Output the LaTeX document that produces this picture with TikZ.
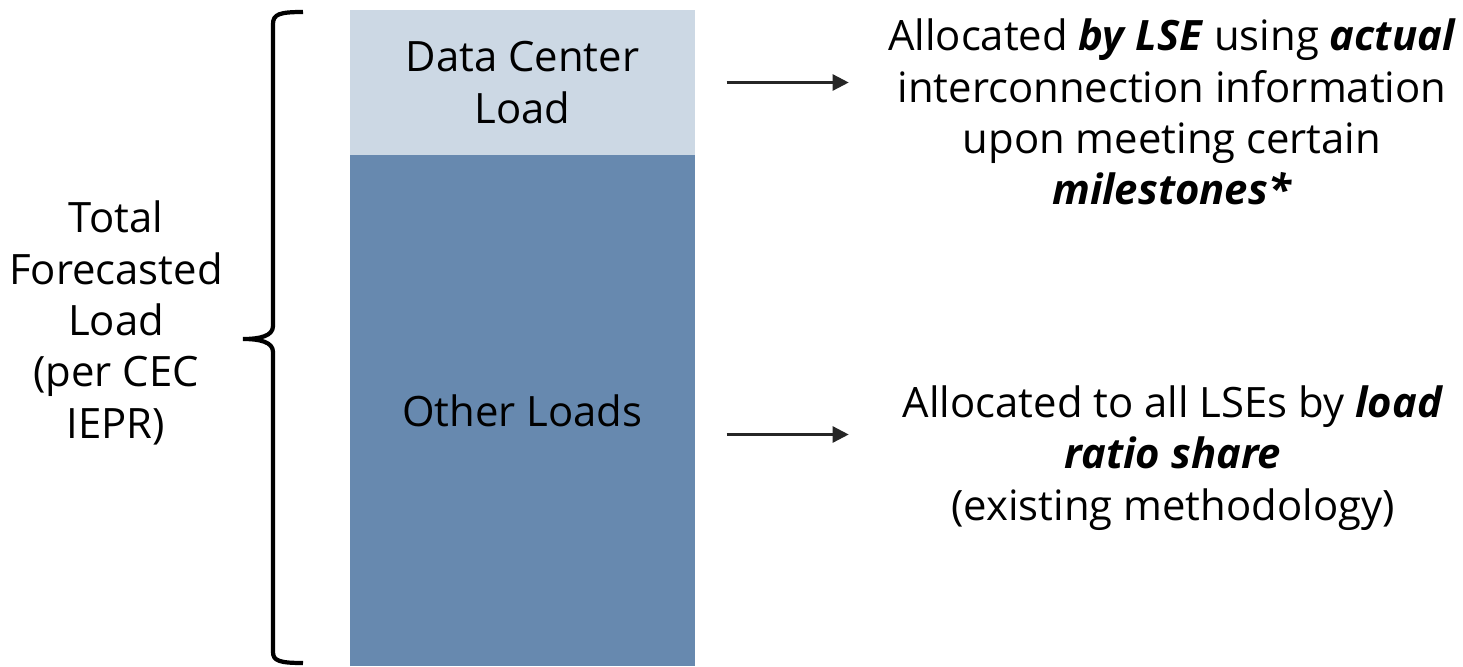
\documentclass[tikz,border=0pt]{standalone}
\usepackage{fontspec}
\setmainfont{Open Sans}
\usetikzlibrary{positioning}
\usetikzlibrary{arrows.meta}
\definecolor{dcblue}{RGB}{204,216,228}
\definecolor{loadblue}{RGB}{103,137,175}

\begin{document}
\begin{tikzpicture}
\useasboundingbox (0,0) rectangle (14.63,6.66);
\tikzset{txt/.style={font=\fontsize{11.9}{14.6}\selectfont,align=center,inner sep=0pt},
  bar/.style={rectangle,draw=none,minimum width=3.45cm,inner sep=0pt},
  arr/.style={-{Triangle[length=0.16cm,width=0.16cm]},line width=0.7pt,black!85}}

% stacked bar
\node[bar,fill=dcblue,minimum height=1.45cm,txt] (dc) at (5.225,5.835) {Data Center\\Load};
\node[bar,fill=loadblue,minimum height=5.11cm,txt] (other) at (5.225,2.555) {Other Loads};

% brace round the whole bar
\draw[line width=1.2pt] (3.03,6.54) .. controls (2.80,6.54) and (2.73,6.52) .. (2.73,6.42)
  -- (2.73,3.40) .. controls (2.73,3.30) and (2.60,3.27) .. (2.43,3.27)
  .. controls (2.60,3.27) and (2.73,3.24) .. (2.73,3.14)
  -- (2.73,0.14) .. controls (2.73,0.05) and (2.80,0.03) .. (3.03,0.03);
\node[txt] (total) at (1.16,3.43) {Total\\Forecasted\\Load\\(per CEC\\IEPR)};

% notes on the right
\node[txt] (dcnote) at (11.72,5.54) {Allocated \textbf{\textit{by LSE}} using \textbf{\textit{actual}}\\interconnection information\\upon meeting certain\\\textbf{\textit{milestones*}}};
\node[txt] (othernote) at (11.73,2.08) {Allocated to all LSEs by \textbf{\textit{load}}\\\textbf{\textit{ratio share}}\\(existing methodology)};

\coordinate[right=0.31cm of dc.east] (a1);
\coordinate[right=1.53cm of dc.east] (b1);
\coordinate[below=3.52cm of a1] (a2);
\coordinate[below=3.52cm of b1] (b2);
\draw[arr] (a1) -- (b1);
\draw[arr] (a2) -- (b2);

\end{tikzpicture}
\end{document}
